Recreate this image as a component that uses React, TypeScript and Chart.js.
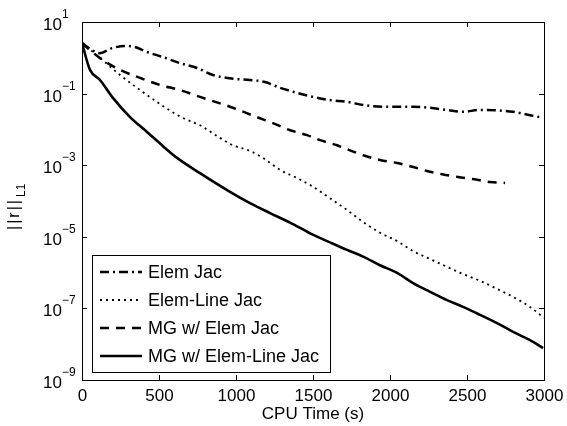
import React, { useEffect, useRef } from "react";
import { Chart, registerables } from "chart.js";

Chart.register(...registerables);

// ---- Data ----
const xTickValues = [0, 500, 1000, 1500, 2000, 2500, 3000];
const yTickExponents = [1, -1, -3, -5, -7, -9];
const xAxisTitle = "CPU Time (s)";
const yAxisTitleMain = "||r||";
const yAxisTitleSub = "L1";

const seriesNames = ["Elem Jac", "Elem-Line Jac", "MG w/ Elem Jac", "MG w/ Elem-Line Jac"];

const elemJacX = [0, 52, 117, 195, 279, 344, 422, 526, 636, 747, 851, 981, 1091, 1188, 1286, 1396, 1500, 1610, 1721, 1825, 1955, 2046, 2150, 2260, 2370, 2474, 2585, 2695, 2799, 2909, 2974];
const elemJacY = [2.57, 1.78, 1.35, 1.86, 2.14, 2.0, 1.45, 1.05, 0.71, 0.52, 0.33, 0.26, 0.24, 0.21, 0.145, 0.105, 0.081, 0.066, 0.059, 0.048, 0.043, 0.043, 0.043, 0.04, 0.035, 0.031, 0.035, 0.034, 0.031, 0.025, 0.022];

const elemLineJacX = [0, 117, 247, 377, 507, 636, 766, 896, 981, 1091, 1175, 1286, 1396, 1500, 1610, 1721, 1825, 1935, 2046, 2150, 2260, 2370, 2474, 2585, 2695, 2799, 2909, 3000];
const elemLineJacY = [2.57, 1.0, 0.33, 0.126, 0.051, 0.023, 0.013, 0.0058, 0.0036, 0.0025, 0.0016, 7.4e-4, 4.4e-4, 2.5e-4, 1.2e-4, 5.6e-5, 2.6e-5, 1.3e-5, 7.6e-6, 4.0e-6, 2.4e-6, 1.45e-6, 9.1e-7, 5.9e-7, 3.5e-7, 2.1e-7, 1.1e-7, 5.4e-8];

const mgElemJacX = [0, 117, 247, 377, 507, 636, 766, 961, 1136, 1240, 1351, 1461, 1546, 1656, 1740, 1825, 1935, 2046, 2150, 2240, 2338, 2442, 2539, 2650, 2747];
const mgElemJacY = [2.57, 0.98, 0.46, 0.275, 0.174, 0.126, 0.081, 0.043, 0.022, 0.015, 0.0095, 0.0069, 0.005, 0.0036, 0.0026, 0.0019, 0.0014, 0.00115, 8.9e-4, 6.9e-4, 5.6e-4, 4.7e-4, 4.1e-4, 3.4e-4, 3.2e-4];

const mgElemLineJacX = [0, 52, 117, 201, 312, 422, 526, 617, 766, 961, 1091, 1221, 1351, 1481, 1610, 1721, 1825, 1935, 2046, 2150, 2260, 2370, 2474, 2585, 2695, 2799, 2909, 2994];
const mgElemLineJacY = [2.57, 0.46, 0.24, 0.076, 0.022, 0.0085, 0.0034, 0.0016, 6.0e-4, 1.8e-4, 8.7e-5, 4.6e-5, 2.5e-5, 1.25e-5, 7.0e-6, 4.3e-6, 2.8e-6, 1.6e-6, 9.8e-7, 5.1e-7, 2.9e-7, 1.7e-7, 1.1e-7, 6.6e-8, 3.9e-8, 2.2e-8, 1.3e-8, 7.8e-9];

const FONT = '"Liberation Sans", Arial, Helvetica, sans-serif';

const toPoints = (xs: number[], ys: number[]) => xs.map((x, i) => ({ x, y: ys[i] }));

const axesPlugin = {
  id: "matlabAxes",
  afterDatasetsDraw(chart: any) {
    const ctx = chart.ctx as CanvasRenderingContext2D;
    const area = chart.chartArea;
    // legend
    const lx = area.left + 10;
    const ly = area.bottom - 125;
    const lw = 238;
    const lh = 117;
    ctx.save();
    ctx.fillStyle = "#ffffff";
    ctx.fillRect(lx, ly, lw, lh);
    ctx.strokeStyle = "#000";
    ctx.lineWidth = 1;
    ctx.strokeRect(lx + 0.5, ly + 0.5, lw, lh);
    chart.data.datasets.forEach((ds: any, i: number) => {
      const cy = ly + 17 + i * 28;
      ctx.save();
      ctx.beginPath();
      ctx.strokeStyle = ds.borderColor;
      ctx.lineWidth = ds.borderWidth;
      ctx.setLineDash(ds.borderDash || []);
      ctx.moveTo(lx + 8, cy);
      ctx.lineTo(lx + 50, cy);
      ctx.stroke();
      ctx.restore();
      ctx.fillStyle = "#000";
      ctx.font = `18px ${FONT}`;
      ctx.textBaseline = "middle";
      ctx.textAlign = "left";
      ctx.fillText(ds.label, lx + 56, cy + 1);
    });
    ctx.restore();
  },
  afterDraw(chart: any) {
    const ctx = chart.ctx as CanvasRenderingContext2D;
    const area = chart.chartArea;
    const xs = chart.scales.x;
    const ys = chart.scales.y;
    ctx.save();
    ctx.strokeStyle = "#000";
    ctx.lineWidth = 1;
    ctx.setLineDash([]);
    ctx.strokeRect(area.left + 0.5, area.top + 0.5, area.right - area.left, area.bottom - area.top);
    ctx.fillStyle = "#000";
    // x ticks
    ctx.font = `17px ${FONT}`;
    ctx.textAlign = "center";
    ctx.textBaseline = "middle";
    xTickValues.forEach((v) => {
      const px = Math.round(xs.getPixelForValue(v)) + 0.5;
      ctx.beginPath();
      ctx.moveTo(px, area.bottom);
      ctx.lineTo(px, area.bottom - 5);
      ctx.moveTo(px, area.top);
      ctx.lineTo(px, area.top + 5);
      ctx.stroke();
      ctx.fillText(String(v), px, area.bottom + 16);
    });
    // x title
    ctx.fillText(xAxisTitle, (area.left + area.right) / 2, area.bottom + 34);
    // y ticks
    yTickExponents.forEach((e) => {
      const py = Math.round(ys.getPixelForValue(Math.pow(10, e))) + 0.5;
      ctx.beginPath();
      ctx.moveTo(area.left, py);
      ctx.lineTo(area.left + 5, py);
      ctx.moveTo(area.right, py);
      ctx.lineTo(area.right - 5, py);
      ctx.stroke();
      ctx.font = `17px ${FONT}`;
      ctx.textAlign = "right";
      ctx.textBaseline = "middle";
      ctx.fillText("10", area.left - 20, py + 3);
      ctx.font = `12px ${FONT}`;
      ctx.textAlign = "left";
      ctx.fillText(e < 0 ? "\u2212" + String(-e) : String(e), area.left - 20, py - 8);
    });
    // y title
    ctx.save();
    ctx.translate(19, 230);
    ctx.rotate(-Math.PI / 2);
    ctx.textAlign = "left";
    ctx.textBaseline = "alphabetic";
    ctx.font = `16px ${FONT}`;
    (ctx as any).letterSpacing = "2px";
    ctx.fillText(yAxisTitleMain, 0, 0);
    const w = ctx.measureText(yAxisTitleMain).width;
    (ctx as any).letterSpacing = "0px";
    ctx.font = `12px ${FONT}`;
    ctx.fillText(yAxisTitleSub, w + 1, 6);
    ctx.restore();
    ctx.restore();
  },
};

export default function App() {
  const canvasRef = useRef<HTMLCanvasElement | null>(null);

  useEffect(() => {
    const canvas = canvasRef.current;
    if (!canvas) return;
    const common = { borderColor: "#000", pointRadius: 0, fill: false, cubicInterpolationMode: "monotone" };
    const chart = new Chart(canvas, {
      type: "line",
      data: {
        datasets: [
          { ...common, label: seriesNames[0], data: toPoints(elemJacX, elemJacY), borderWidth: 2.5, borderDash: [9, 4, 2, 4] },
          { ...common, label: seriesNames[1], data: toPoints(elemLineJacX, elemLineJacY), borderWidth: 1.8, borderDash: [2, 4] },
          { ...common, label: seriesNames[2], data: toPoints(mgElemJacX, mgElemJacY), borderWidth: 2.5, borderDash: [9, 7] },
          { ...common, label: seriesNames[3], data: toPoints(mgElemLineJacX, mgElemLineJacY), borderWidth: 2.6, borderDash: [] },
        ],
      } as any,
      options: {
        responsive: false,
        animation: false,
        devicePixelRatio: 1,
        layout: { padding: { left: 82, right: 23, top: 22, bottom: 46 } },
        scales: {
          x: { type: "linear", min: 0, max: 3000, display: false },
          y: { type: "logarithmic", min: 1e-9, max: 10, display: false },
        },
        plugins: {
          legend: { display: false },
          tooltip: { enabled: false },
        },
      } as any,
      plugins: [axesPlugin],
    });
    return () => chart.destroy();
  }, []);

  return (
    <div style={{ position: "absolute", left: 0, top: 0, width: 567, height: 426, background: "#fff" }}>
      <canvas ref={canvasRef} width={567} height={426} style={{ display: "block" }} />
    </div>
  );
}
